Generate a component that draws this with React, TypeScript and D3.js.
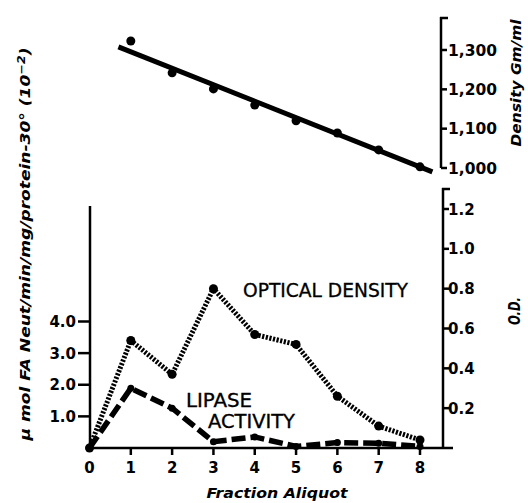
import React from 'react'
import * as d3 from 'd3'

// fraction aliquots
const fractions = [0, 1, 2, 3, 4, 5, 6, 7, 8]
const opticalDensity = [0, 0.54, 0.37, 0.8, 0.57, 0.52, 0.26, 0.11, 0.04]
const lipaseActivity = [0, 1.89, 1.26, 0.2, 0.35, 0.05, 0.17, 0.15, 0.05]

// gradient density (top panel)
const densityFractions = [1, 2, 3, 4, 5, 6, 7, 8]
const densityValues = [1.323, 1.242, 1.201, 1.16, 1.12, 1.089, 1.046, 1.003]
const fitFractions = [0.7, 8.3]
const fitDensity = [1.308, 0.99]

const xTicks = [0, 1, 2, 3, 4, 5, 6, 7, 8]
const leftTicks = [1, 2, 3, 4]
const odTicks = [0.2, 0.4, 0.6, 0.8, 1.0, 1.2]
const densityTicks = [1.0, 1.1, 1.2, 1.3]

const W = 528
const H = 503
const tickFont = "'DejaVu Sans', sans-serif"
const labelFont = "'DejaVu Sans Condensed', 'DejaVu Sans', sans-serif"

export default function App() {
  const x = d3.scaleLinear().domain([0, 8]).range([89.5, 420])
  const yLeft = d3.scaleLinear().domain([0, 4]).range([448, 321.5])
  const yOD = d3.scaleLinear().domain([0, 1.2]).range([448, 209])
  const yDens = d3.scaleLinear().domain([1.0, 1.3]).range([168, 50])

  const axisRight = 443
  const densAxisX = 441

  const odLine = d3
    .line<number>()
    .x((d, i) => x(fractions[i]))
    .y(d => yOD(d))
  const lipLine = d3
    .line<number>()
    .x((d, i) => x(fractions[i]))
    .y(d => yLeft(d))
  const fitLine = d3
    .line<number>()
    .x((d, i) => x(fitFractions[i]))
    .y(d => yDens(d))

  const fmtDens = (v: number) => d3.format('.3f')(v).replace('.', ',')

  return (
    <svg width={W} height={H} style={{ position: 'absolute', left: 0, top: 0, background: '#fff' }}>
      <rect width={W} height={H} fill="#fff" />

      {/* top panel: density axis */}
      <line x1={densAxisX} x2={densAxisX} y1={17} y2={yDens(1.0)} stroke="#000" strokeWidth={2.5} />
      <line x1={densAxisX - 1} x2={densAxisX + 7} y1={18} y2={18} stroke="#000" strokeWidth={2.5} />
      {densityTicks.map(t => (
        <g key={t}>
          <line x1={densAxisX} x2={densAxisX + 6} y1={yDens(t)} y2={yDens(t)} stroke="#000" strokeWidth={2.5} />
          <text x={densAxisX + 7} y={yDens(t) + 5.5} fontFamily={tickFont} fontWeight="bold" fontSize={15} textLength={49} lengthAdjust="spacingAndGlyphs">
            {fmtDens(t)}
          </text>
        </g>
      ))}
      <text transform="translate(521,83) rotate(-90)" textAnchor="middle" fontFamily={tickFont} fontWeight="bold" fontStyle="italic" fontSize={14} textLength={127} lengthAdjust="spacingAndGlyphs">
        Density Gm/ml
      </text>

      <path d={fitLine(fitDensity) || ''} fill="none" stroke="#000" strokeWidth={5} />
      {densityValues.map((v, i) => (
        <circle key={i} cx={x(densityFractions[i])} cy={yDens(v)} r={4.5} fill="#000" />
      ))}

      {/* bottom panel axes */}
      <line x1={90} x2={90} y1={206} y2={449} stroke="#000" strokeWidth={2.5} />
      <line x1={88} x2={453} y1={448} y2={448} stroke="#000" strokeWidth={2.5} />
      <line x1={axisRight} x2={axisRight} y1={188} y2={449} stroke="#000" strokeWidth={2.5} />
      <line x1={axisRight - 1} x2={axisRight + 7} y1={189} y2={189} stroke="#000" strokeWidth={2.5} />

      {leftTicks.map(t => (
        <g key={t}>
          <line x1={78} x2={90} y1={yLeft(t)} y2={yLeft(t)} stroke="#000" strokeWidth={2.5} />
          <text x={76} y={yLeft(t) + 5.5} textAnchor="end" fontFamily={tickFont} fontWeight="bold" fontSize={15}>
            {d3.format('.1f')(t)}
          </text>
        </g>
      ))}
      {odTicks.map(t => (
        <g key={t}>
          <line x1={axisRight} x2={axisRight + 6} y1={yOD(t)} y2={yOD(t)} stroke="#000" strokeWidth={2.5} />
          <text x={axisRight + 5} y={yOD(t) + 5.5} fontFamily={tickFont} fontWeight="bold" fontSize={15}>
            {d3.format('.1f')(t)}
          </text>
        </g>
      ))}
      {xTicks.map(t => (
        <g key={t}>
          {t > 0 && <line x1={x(t)} x2={x(t)} y1={448} y2={455} stroke="#000" strokeWidth={2.5} />}
          <text x={x(t)} y={473} textAnchor="middle" fontFamily={tickFont} fontWeight="bold" fontSize={15}>
            {t}
          </text>
        </g>
      ))}

      <text x={277} y={498} textAnchor="middle" fontFamily={tickFont} fontWeight="bold" fontStyle="italic" fontSize={14} textLength={141} lengthAdjust="spacingAndGlyphs">
        Fraction Aliquot
      </text>
      <text transform="translate(520,311) rotate(-90)" textAnchor="middle" fontFamily={tickFont} fontWeight="bold" fontStyle="italic" fontSize={16} textLength={28} lengthAdjust="spacingAndGlyphs">
        O.D.
      </text>
      <text transform="translate(30,244) rotate(-90)" textAnchor="middle" fontFamily={tickFont} fontWeight="bold" fontStyle="italic" fontSize={13.5} textLength={393} lengthAdjust="spacingAndGlyphs">
        μ mol FA Neut/min/mg/protein-30° (10
        <tspan dy={-5} fontSize={10}>−2</tspan>
        <tspan dy={5}>)</tspan>
      </text>

      {/* series */}
      <path d={odLine(opticalDensity) || ''} fill="none" stroke="#000" strokeWidth={5} strokeDasharray="2.2 1.5" />
      {opticalDensity.map((v, i) => (
        <circle key={i} cx={x(fractions[i])} cy={yOD(v)} r={4.5} fill="#000" />
      ))}
      <path d={lipLine(lipaseActivity) || ''} fill="none" stroke="#000" strokeWidth={5.5} strokeDasharray="14 5" />
      {lipaseActivity.map((v, i) => (
        <circle key={i} cx={x(fractions[i])} cy={yLeft(v)} r={3.5} fill="#000" />
      ))}

      <text x={243} y={297} fontFamily={labelFont} fontSize={19} stroke="#000" strokeWidth={0.3} textLength={165} lengthAdjust="spacingAndGlyphs">
        OPTICAL DENSITY
      </text>
      <text x={186} y={407} fontFamily={labelFont} fontSize={19} stroke="#000" strokeWidth={0.3} textLength={66} lengthAdjust="spacingAndGlyphs">
        LIPASE
      </text>
      <text x={208} y={428} fontFamily={labelFont} fontSize={19} stroke="#000" strokeWidth={0.3} textLength={87} lengthAdjust="spacingAndGlyphs">
        ACTIVITY
      </text>
    </svg>
  )
}
